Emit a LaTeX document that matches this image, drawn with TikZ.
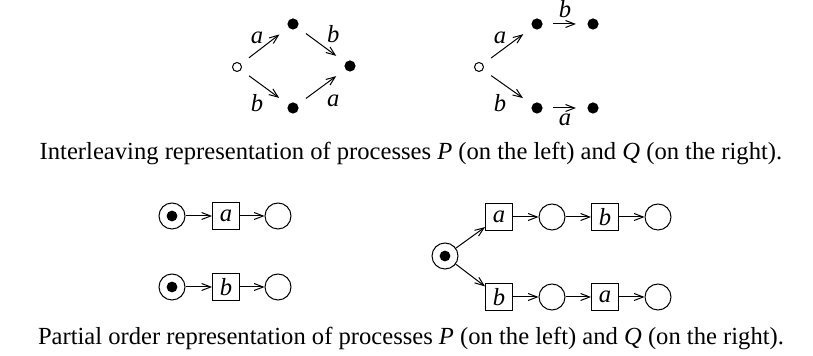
\documentclass[tikz,border=0pt]{standalone}
\usepackage{fontspec}
\setmainfont{Liberation Serif}
\usetikzlibrary{arrows.meta}

\begin{document}
\begin{tikzpicture}[x=0.5pt, y=-0.5pt, line width=0.5pt,
    >={Straight Barb[length=4.5pt, width=3.5pt]},
    font=\fontsize{12.3}{15}\selectfont,
    state/.style={circle, draw, inner sep=0pt, minimum size=4.5pt},
    dot/.style={circle, fill, inner sep=0pt, minimum size=5.6pt},
    move/.style={->, shorten <=5pt, shorten >=5.5pt},
    lbl/.style={inner sep=0.5pt},
    place/.style={circle, draw, inner sep=0pt, minimum size=13pt},
    token/.style={place, path picture={\fill (path picture bounding box.center) circle (2.7pt);}},
    trans/.style={draw, inner sep=0pt, minimum size=13.5pt}]
  \useasboundingbox (0,0) rectangle (813,356);

  % interleaving, P
  \node[state] (p0) at (237,67) {};
  \node[dot] (p1) at (293,24) {};
  \node[dot] (p2) at (293,108) {};
  \node[dot] (p3) at (350,66) {};
  \draw[move] (p0) -- node[lbl, above left, yshift=0.5pt] {\textit{a}} (p1);
  \draw[move] (p0) -- node[lbl, below left, yshift=-3pt] {\textit{b}} (p2);
  \draw[move] (p1) -- node[lbl, above right, xshift=2pt, yshift=0.5pt] {\textit{b}} (p3);
  \draw[move] (p2) -- node[lbl, below right, xshift=2pt, yshift=-3pt] {\textit{a}} (p3);

  % interleaving, Q
  \node[state] (q0) at (479,67) {};
  \node[dot] (q1) at (537,24) {};
  \node[dot] (q2) at (593,24) {};
  \node[dot] (q3) at (537,108) {};
  \node[dot] (q4) at (593,108) {};
  \draw[move] (q0) -- node[lbl, above left, yshift=0.5pt] {\textit{a}} (q1);
  \draw[move] (q0) -- node[lbl, below left, yshift=-3pt] {\textit{b}} (q3);
  \draw[move] (q1) -- node[lbl, above=2.5pt] {\textit{b}} (q2);
  \draw[move] (q3) -- node[lbl, below=2pt] {\textit{a}} (q4);

  \node[anchor=base] (cap1) at (411,160) {Interleaving representation of processes \textit{P} (on the left) and \textit{Q} (on the right).};

  % partial order, P
  \node[token] (pa0) at (172,216) {};
  \node[trans] (pa) at (226,216) {\textit{a}};
  \node[place] (pa1) at (278,216) {};
  \node[token] (pb0) at (172,287) {};
  \node[trans] (pb) at (226,287) {\textit{b}};
  \node[place] (pb1) at (278,287) {};
  \draw[->] (pa0) -- (pa);
  \draw[->] (pa) -- (pa1);
  \draw[->] (pb0) -- (pb);
  \draw[->] (pb) -- (pb1);

  % partial order, Q
  \node[token] (q) at (445,256) {};
  \node[trans] (qa) at (499,217) {\textit{a}};
  \node[place] (qa1) at (552,217) {};
  \node[trans] (qab) at (605,217) {\textit{b}};
  \node[place] (qa2) at (658,217) {};
  \node[trans] (qb) at (499,297) {\textit{b}};
  \node[place] (qb1) at (552,297) {};
  \node[trans] (qba) at (605,297) {\textit{a}};
  \node[place] (qb2) at (658,297) {};
  \draw[->] (q) -- (qa);
  \draw[->] (qa) -- (qa1);
  \draw[->] (qa1) -- (qab);
  \draw[->] (qab) -- (qa2);
  \draw[->] (q) -- (qb);
  \draw[->] (qb) -- (qb1);
  \draw[->] (qb1) -- (qba);
  \draw[->] (qba) -- (qb2);

  \node[anchor=base] (cap2) at (411,345) {Partial order representation of processes \textit{P} (on the left) and \textit{Q} (on the right).};
\end{tikzpicture}
\end{document}
